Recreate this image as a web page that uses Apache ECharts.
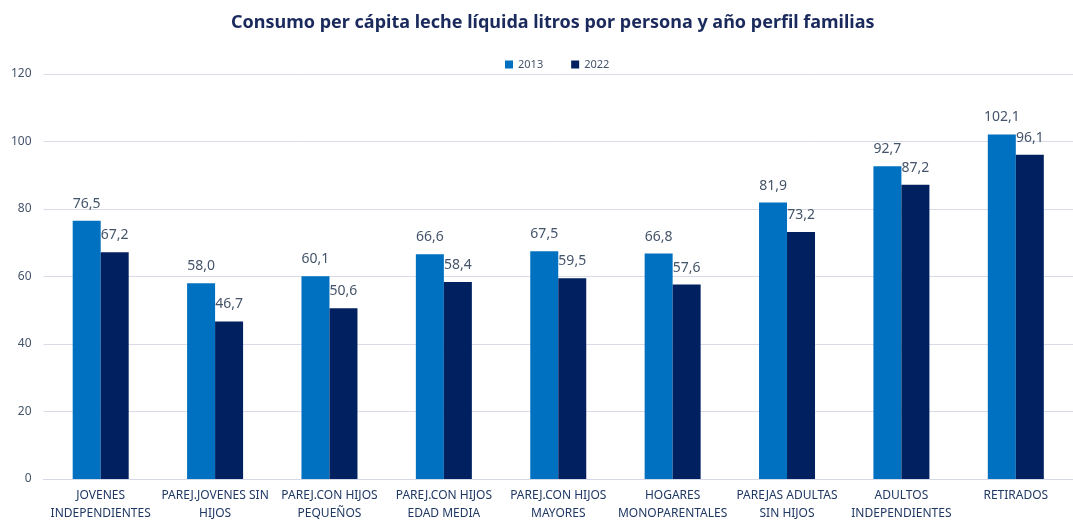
<!DOCTYPE html>
<html>
<head>
<meta charset="utf-8">
<script src="https://cdn.jsdelivr.net/npm/echarts@6/dist/echarts.min.js"></script>
<style>
  html, body { margin: 0; padding: 0; background: #fff; }
  #chart { width: 1073px; height: 523px; }
</style>
</head>
<body>
<div id="chart"></div>
<script>
const categories = [
    "JOVENES\nINDEPENDIENTES",
    "PAREJ.JOVENES SIN\nHIJOS",
    "PAREJ.CON HIJOS\nPEQUEÑOS",
    "PAREJ.CON HIJOS\nEDAD MEDIA",
    "PAREJ.CON HIJOS\nMAYORES",
    "HOGARES\nMONOPARENTALES",
    "PAREJAS ADULTAS\nSIN HIJOS",
    "ADULTOS\nINDEPENDIENTES",
    "RETIRADOS"
];
const values2013 = [76.5, 58.0, 60.1, 66.6, 67.5, 66.8, 81.9, 92.7, 102.1];
const values2022 = [67.2, 46.7, 50.6, 58.4, 59.5, 57.6, 73.2, 87.2, 96.1];

const fmt = p => p.value.toFixed(1).replace(".", ",");

const chart = echarts.init(document.getElementById("chart"));
chart.setOption({
    animation: false,
    textStyle: { fontFamily: "Noto Sans" },
    title: {
        text: "Consumo per cápita leche líquida litros por persona y año perfil familias",
        left: 226,
        top: 9,
        textStyle: { fontSize: 18, fontWeight: "bold", color: "#1B2A5C", fontFamily: "Noto Sans" }
    },
    legend: {
        top: 54,
        left: 500,
        itemWidth: 8,
        itemHeight: 8,
        itemGap: 28,
        icon: "rect",
        textStyle: { fontSize: 11, color: "#44546A" },
        data: ["2013", "2022"]
    },
    grid: { left: 43.5, top: 74, width: 1042, height: 408 },
    xAxis: {
        type: "category",
        data: categories,
        axisTick: { show: false },
        axisLine: { lineStyle: { color: "#D5D8E6" } },
        axisLabel: { interval: 0, fontSize: 12, color: "#1F3864", lineHeight: 18, margin: 8 }
    },
    yAxis: {
        type: "value",
        min: 0,
        max: 120,
        interval: 20,
        axisLabel: { fontSize: 12, color: "#44546A", margin: 12, align: "right" },
        splitLine: { lineStyle: { color: "#D9DCE8" } }
    },
    series: [
        {
            name: "2013",
            type: "bar",
            data: values2013,
            barWidth: 28,
            barGap: "0%",
            itemStyle: { color: "#0070C0" },
            label: { show: true, position: "top", distance: 10, fontSize: 14, color: "#44546A", formatter: fmt }
        },
        {
            name: "2022",
            type: "bar",
            data: values2022,
            barWidth: 28,
            itemStyle: { color: "#002060" },
            label: { show: true, position: "top", distance: 10, fontSize: 14, color: "#44546A", formatter: fmt }
        }
    ]
});
</script>
</body>
</html>
